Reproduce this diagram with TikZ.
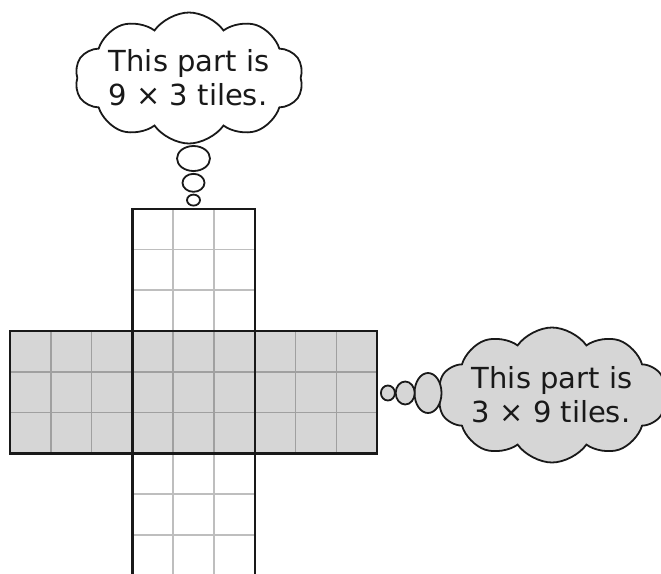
\documentclass[tikz,border=0pt]{standalone}
\usepackage{fontspec}
\setmainfont{DejaVu Sans}
\usepackage{tikz}
\usepackage{xcolor}
\usetikzlibrary{shapes.geometric, shapes.symbols, positioning}
\definecolor{cTile}{RGB}{214,214,214}
\definecolor{cGridW}{RGB}{190,190,190}
\definecolor{cGridG}{RGB}{160,160,160}
\definecolor{cEdge}{RGB}{25,25,25}
\tikzset{
	% tile drawing styles
	tilefill/.style ={fill=cTile, draw=none},
	gridw/.style    ={line width=1.6pt, cGridW},
	gridg/.style    ={line width=1.6pt, cGridG},
	outline/.style  ={line width=2.2pt, cEdge},
	% thought cloud styles
	thought/.style  ={cloud, cloud puffs=10, cloud puff arc=110, cloud ignores aspect, draw=cEdge, line width=1.8pt, align=left, inner sep=0pt, text=cEdge, font=\fontsize{29}{34}\selectfont},
	bubble/.style   ={ellipse, draw=cEdge, line width=1.8pt, inner sep=0pt},
}

\begin{document}
\begin{tikzpicture}[x=1pt, y=-1pt]
	\clip (0,0) rectangle (661,573);
	\def\t{40.8}
	% vertical strip, 3 wide
	\foreach \i in {1,2} \draw[gridw] (132.4+\i*\t,208.6) -- (132.4+\i*\t,580);
	\foreach \j in {1,...,8} \draw[gridw] (132.4,208.6+\j*\t) -- (254.8,208.6+\j*\t);
	% horizontal strip, 9 wide
	\fill[tilefill] (10,331) rectangle (377.2,453.4);
	\foreach \i in {1,...,8} \draw[gridg] (10+\i*\t,331) -- (10+\i*\t,453.4);
	\foreach \j in {1,2} \draw[gridg] (10,331+\j*\t) -- (377.2,331+\j*\t);
	\draw[outline] (10,331) rectangle (377.2,453.4);
	\draw[outline] (132.4,580) -- (132.4,208.6) -- (254.8,208.6) -- (254.8,580);
	% top thought
	\node[thought, fill=white, minimum width=223pt, minimum height=131pt] (topcloud) at (189,78) {This part is\\9 × 3 tiles.};
	\node[bubble, fill=white, minimum width=33pt, minimum height=25pt] (topbig) at (193.5,158.5) {};
	\node[bubble, fill=white, minimum width=22pt, minimum height=18pt, below=1pt of topbig] (topmid) {};
	\node[bubble, fill=white, minimum width=13pt, minimum height=11pt, below=1pt of topmid] (topsmall) {};
	% right thought
	\node[thought, fill=cTile, minimum width=219pt, minimum height=135pt] (rightcloud) at (552,395) {This part is\\3 × 9 tiles.};
	\node[bubble, fill=cTile, minimum width=27pt, minimum height=40pt] (rightbig) at (428,393) {};
	\node[bubble, fill=cTile, minimum width=19pt, minimum height=23pt, left=-2pt of rightbig] (rightmid) {};
	\node[bubble, fill=cTile, minimum width=14pt, minimum height=15pt, left=-1pt of rightmid] (rightsmall) {};
\end{tikzpicture}
\end{document}
